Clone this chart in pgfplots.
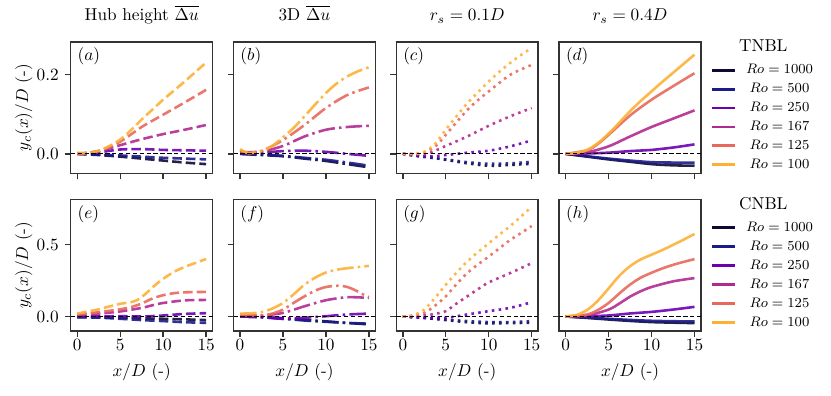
\documentclass[border=0pt]{standalone}
\usepackage{pgfplots}
\pgfplotsset{compat=1.18}
\usepgfplotslibrary{groupplots}

\definecolor{roA}{HTML}{0D0A33}
\definecolor{roB}{HTML}{1B1B8C}
\definecolor{roC}{HTML}{6A00B0}
\definecolor{roD}{HTML}{B12A90}
\definecolor{roE}{HTML}{E8685C}
\definecolor{roF}{HTML}{FCB034}

\pgfplotsset{
  pdash/.style={dash pattern=on 5.5pt off 2.4pt},
  pdashdot/.style={dash pattern=on 9.6pt off 2.4pt on 1.5pt off 2.4pt},
  pdot/.style={dash pattern=on 1.5pt off 2.5pt},
  zeroline/.style={black, sharp plot, line width=0.6pt, opacity=1, dash pattern=on 2.5pt off 1.5pt, forget plot},
  rolegend/.style={
    legend style={draw=none, fill=none, at={(1.03,0.878)}, anchor=north west,
      font=\fontsize{8.3}{10}\selectfont, column sep=4.4pt, row sep=1.3pt,
      nodes={inner sep=1pt, text height=6pt, text depth=1.7pt}},
    legend image code/.code={\draw[##1, solid, opacity=1, line width=1.7pt] (0pt,0pt) -- (13.4pt,0pt);},
  },
}

\begin{document}
\begin{tikzpicture}
\begin{groupplot}[
  group style={group size=4 by 2, horizontal sep=12.2pt, vertical sep=15.3pt,
    xticklabels at=edge bottom, yticklabels at=edge left},
  width=82.3pt, height=76.2pt, scale only axis, clip=false,
  xmin=-0.75, xmax=15.75, xtick={0,5,10,15},
  tick align=outside, tick pos=left, major tick length=3.5pt,
  axis line style={black!80, line width=0.8pt},
  every tick/.style={black!80, line width=0.8pt},
  yticklabel style={/pgf/number format/.cd, fixed, fixed zerofill, precision=1},
  xticklabel style={yshift=2pt},
  title style={anchor=base, yshift=6.2pt},
  ylabel style={at={(axis description cs:-0.332,0.5)}, anchor=center},
  xlabel style={at={(axis description cs:0.5,-0.318)}, anchor=center},
  no markers,
  every axis plot/.append style={line width=1.5pt, opacity=0.9, smooth, tension=0.5},
]

% ---------- (a) hub height, TNBL
\nextgroupplot[ymin=-0.049, ymax=0.283, ytick={0,0.2},
  title={Hub height $\overline{\Delta u}$}, ylabel={$y_c(x)/D$ (-)}]
\addplot[roA, pdash] coordinates {(0,0) (2.5,-0.003) (5,-0.007) (7.5,-0.012) (10,-0.017) (12.5,-0.022) (15,-0.026)};
\addplot[roB, pdash] coordinates {(0,0) (2.5,-0.002) (5,-0.004) (7.5,-0.007) (10,-0.010) (12.5,-0.012) (15,-0.014)};
\addplot[roC, pdash] coordinates {(0,0) (2.5,0.004) (5,0.011) (7.5,0.012) (10,0.010) (12.5,0.009) (15,0.008)};
\addplot[roD, pdash] coordinates {(0,0) (2.5,0.007) (5,0.022) (7.5,0.037) (10,0.050) (12.5,0.061) (15,0.073)};
\addplot[roE, pdash] coordinates {(0,0) (2.5,0.007) (5,0.031) (7.5,0.068) (10,0.099) (12.5,0.130) (15,0.162)};
\addplot[roF, pdash] coordinates {(0,0.003) (1.25,0.002) (2.5,0.008) (3.75,0.020) (5,0.036) (6.25,0.060) (7.5,0.087) (8.75,0.112) (10,0.137) (11.25,0.160) (12.5,0.183) (13.75,0.207) (15,0.231)};
\addplot[zeroline] coordinates {(-0.75,0) (15.75,0)};
\node[anchor=west, inner sep=0pt] at (axis description cs:0.046,0.89) {$(a)$};

% ---------- (b) 3D, TNBL
\nextgroupplot[ymin=-0.049, ymax=0.283, ytick={0,0.2},
  title={3D $\overline{\Delta u}$}]
\addplot[roA, pdashdot] coordinates {(0,0) (2.5,-0.003) (5,-0.006) (7.5,-0.012) (10,-0.018) (12.5,-0.026) (15,-0.034)};
\addplot[roB, pdashdot] coordinates {(0,0) (2.5,-0.002) (5,-0.005) (7.5,-0.010) (10,-0.015) (12.5,-0.022) (15,-0.030)};
\addplot[roC, pdashdot] coordinates {(0,0.002) (2.5,0.003) (5,0.007) (7.5,0.008) (10,0.005) (12.5,0.000) (15,-0.005)};
\addplot[roD, pdashdot] coordinates {(0,0.004) (2.5,0.006) (5,0.020) (7.5,0.044) (10,0.061) (12.5,0.068) (15,0.071)};
\addplot[roE, pdashdot] coordinates {(0,0.008) (1,0.002) (2.5,0.007) (5,0.035) (7.5,0.073) (10,0.116) (12.5,0.149) (15,0.168)};
\addplot[roF, pdashdot] coordinates {(0,0.012) (1,0.002) (2.5,0.008) (3.75,0.020) (5,0.042) (6.25,0.066) (7.5,0.095) (8.75,0.125) (10,0.154) (11.25,0.178) (12.5,0.196) (13.75,0.209) (15,0.219)};
\addplot[zeroline] coordinates {(-0.75,0) (15.75,0)};
\node[anchor=west, inner sep=0pt] at (axis description cs:0.046,0.89) {$(b)$};

% ---------- (c) r_s = 0.1D, TNBL
\nextgroupplot[ymin=-0.049, ymax=0.283, ytick={0,0.2},
  title={$r_s = 0.1D$}]
\addplot[roA, pdot] coordinates {(0,0) (2.5,-0.007) (5,-0.015) (7.5,-0.024) (10,-0.030) (12.5,-0.028) (15,-0.025)};
\addplot[roB, pdot] coordinates {(0,0) (2.5,-0.008) (5,-0.014) (7.5,-0.021) (10,-0.025) (12.5,-0.024) (15,-0.020)};
\addplot[roC, pdot] coordinates {(0,0) (2.5,-0.007) (5,-0.003) (7.5,0.003) (10,0.008) (12.5,0.019) (15,0.034)};
\addplot[roD, pdot] coordinates {(0,0) (2.5,-0.001) (3.75,0.008) (5,0.020) (7.5,0.044) (10,0.071) (12.5,0.095) (15,0.116)};
\addplot[roE, pdot] coordinates {(0,0) (1.25,0) (2.5,0.003) (3.75,0.018) (5,0.048) (6.25,0.080) (7.5,0.111) (8.75,0.136) (10,0.158) (12.5,0.200) (15,0.225)};
\addplot[roF, pdot] coordinates {(0,0) (1.25,0) (2.5,0.005) (3.75,0.025) (5,0.061) (6.25,0.095) (7.5,0.128) (8.75,0.156) (10,0.183) (11.25,0.208) (12.5,0.230) (13.75,0.250) (15,0.268)};
\addplot[zeroline] coordinates {(-0.75,0) (15.75,0)};
\node[anchor=west, inner sep=0pt] at (axis description cs:0.046,0.89) {$(c)$};

% ---------- (d) r_s = 0.4D, TNBL
\nextgroupplot[ymin=-0.049, ymax=0.283, ytick={0,0.2},
  title={$r_s = 0.4D$}, rolegend]
\addplot[roA] coordinates {(0,0) (2.5,-0.007) (5,-0.014) (7.5,-0.020) (10,-0.026) (12.5,-0.029) (15,-0.030)};
\addlegendentry{$Ro = 1000$}
\addplot[roB] coordinates {(0,0) (2.5,-0.006) (5,-0.012) (7.5,-0.017) (10,-0.021) (12.5,-0.022) (15,-0.022)};
\addlegendentry{$Ro = 500$}
\addplot[roC] coordinates {(0,0) (2.5,0.001) (5,0.003) (7.5,0.007) (10,0.010) (12.5,0.016) (15,0.024)};
\addlegendentry{$Ro = 250$}
\addplot[roD] coordinates {(0,0) (2.5,0.004) (5,0.019) (7.5,0.044) (10,0.068) (12.5,0.089) (15,0.110)};
\addlegendentry{$Ro = 167$}
\addplot[roE] coordinates {(0,0) (2.5,0.009) (3.75,0.025) (5,0.048) (7.5,0.097) (10,0.137) (12.5,0.171) (15,0.204)};
\addlegendentry{$Ro = 125$}
\addplot[roF] coordinates {(0,0) (1.25,0.002) (2.5,0.010) (3.75,0.027) (5,0.051) (6.25,0.079) (7.5,0.108) (8.75,0.134) (10,0.158) (11.25,0.182) (12.5,0.205) (13.75,0.228) (15,0.251)};
\addlegendentry{$Ro = 100$}
\addplot[zeroline] coordinates {(-0.75,0) (15.75,0)};
\node[anchor=west, inner sep=0pt] at (axis description cs:0.046,0.89) {$(d)$};
\node at (axis description cs:1.44,0.97) {TNBL};

% ---------- (e) hub height, CNBL
\nextgroupplot[ymin=-0.1, ymax=0.813, ytick={0,0.5},
  xlabel={$x/D$ (-)}, ylabel={$y_c(x)/D$ (-)}]
\addplot[roA, pdash] coordinates {(0,-0.004) (2.5,-0.006) (5,-0.009) (7.5,-0.013) (10,-0.016) (12.5,-0.020) (15,-0.025)};
\addplot[roB, pdash] coordinates {(0,-0.005) (2.5,-0.008) (5,-0.016) (7.5,-0.025) (10,-0.032) (12.5,-0.040) (15,-0.044)};
\addplot[roC, pdash] coordinates {(0,0.002) (2.5,0.000) (5,0.002) (7.5,0.000) (10,0.007) (12.5,0.018) (15,0.023)};
\addplot[roD, pdash] coordinates {(0,0.010) (2.5,0.020) (5,0.035) (7.5,0.060) (8.75,0.078) (10,0.094) (12.5,0.112) (15,0.115)};
\addplot[roE, pdash] coordinates {(0,0.014) (2.5,0.030) (5,0.050) (6.25,0.065) (7.5,0.090) (8.75,0.125) (10,0.148) (11.25,0.162) (12.5,0.168) (15,0.171)};
\addplot[roF, pdash] coordinates {(0,0.020) (1.25,0.035) (2.5,0.050) (3.75,0.070) (5,0.088) (6.25,0.100) (7,0.115) (8,0.160) (9,0.215) (10,0.262) (11.25,0.310) (12.5,0.345) (13.75,0.372) (15,0.400)};
\addplot[zeroline] coordinates {(-0.75,0) (15.75,0)};
\node[anchor=west, inner sep=0pt] at (axis description cs:0.046,0.89) {$(e)$};

% ---------- (f) 3D, CNBL
\nextgroupplot[ymin=-0.1, ymax=0.813, ytick={0,0.5}, xlabel={$x/D$ (-)}]
\addplot[roA, pdashdot] coordinates {(0,0) (2.5,-0.004) (5,-0.012) (7.5,-0.024) (10,-0.034) (12.5,-0.045) (15,-0.055)};
\addplot[roB, pdashdot] coordinates {(0,0) (2.5,-0.005) (5,-0.016) (7.5,-0.028) (10,-0.037) (12.5,-0.045) (15,-0.050)};
\addplot[roC, pdashdot] coordinates {(0,0) (2.5,-0.005) (5,-0.016) (7.5,-0.009) (10,0.002) (12.5,0.014) (15,0.020)};
\addplot[roD, pdashdot] coordinates {(0,0.005) (2.5,0.007) (5,0.025) (7.5,0.071) (10,0.113) (12.5,0.134) (15,0.129)};
\addplot[roE, pdashdot] coordinates {(0,0.014) (2.5,0.007) (3.75,0.020) (5,0.048) (6.25,0.095) (7.5,0.140) (8.75,0.180) (10,0.205) (11.5,0.214) (12.5,0.205) (13.5,0.180) (14.5,0.148) (15,0.135)};
\addplot[roF, pdashdot] coordinates {(0,0.020) (1.25,0.022) (2.5,0.030) (3.75,0.055) (5,0.094) (6.25,0.155) (7.5,0.221) (8.75,0.270) (10,0.306) (11.25,0.325) (12.5,0.336) (13.75,0.344) (15,0.352)};
\addplot[zeroline] coordinates {(-0.75,0) (15.75,0)};
\node[anchor=west, inner sep=0pt] at (axis description cs:0.046,0.89) {$(f)$};

% ---------- (g) r_s = 0.1D, CNBL
\nextgroupplot[ymin=-0.1, ymax=0.813, ytick={0,0.5}, xlabel={$x/D$ (-)}]
\addplot[roA, pdot] coordinates {(0,0) (2.5,-0.010) (5,-0.025) (7.5,-0.040) (10,-0.048) (12.5,-0.046) (15,-0.044)};
\addplot[roB, pdot] coordinates {(0,0) (2.5,-0.009) (5,-0.021) (7.5,-0.032) (10,-0.039) (12.5,-0.039) (15,-0.032)};
\addplot[roC, pdot] coordinates {(0,0) (2.5,-0.009) (5,-0.009) (7.5,0.014) (10,0.037) (12.5,0.060) (15,0.099)};
\addplot[roD, pdot] coordinates {(0,0) (2.5,0.007) (3.75,0.018) (5,0.037) (6.25,0.090) (7.5,0.140) (8.75,0.190) (10,0.237) (12.5,0.302) (15,0.371)};
\addplot[roE, pdot] coordinates {(0,0) (1.25,0.005) (2.5,0.025) (3.75,0.075) (5,0.140) (6.25,0.225) (7.5,0.302) (8.75,0.362) (10,0.417) (11.25,0.475) (12.5,0.532) (13.75,0.580) (15,0.629)};
\addplot[roF, pdot] coordinates {(0,0) (1.25,0.010) (2.5,0.048) (3.75,0.130) (5,0.221) (6.25,0.305) (7.5,0.382) (8.75,0.448) (10,0.509) (11.25,0.570) (12.5,0.629) (13.75,0.695) (15,0.763)};
\addplot[zeroline] coordinates {(-0.75,0) (15.75,0)};
\node[anchor=west, inner sep=0pt] at (axis description cs:0.046,0.89) {$(g)$};

% ---------- (h) r_s = 0.4D, CNBL
\nextgroupplot[ymin=-0.1, ymax=0.813, ytick={0,0.5}, xlabel={$x/D$ (-)}, rolegend]
\addplot[roA] coordinates {(0,0) (2.5,-0.010) (5,-0.021) (7.5,-0.031) (10,-0.039) (12.5,-0.043) (15,-0.046)};
\addlegendentry{$Ro = 1000$}
\addplot[roB] coordinates {(0,0) (2.5,-0.008) (5,-0.016) (7.5,-0.024) (10,-0.030) (12.5,-0.033) (15,-0.035)};
\addlegendentry{$Ro = 500$}
\addplot[roC] coordinates {(0,0) (2.5,0.002) (5,0.007) (7.5,0.021) (10,0.032) (12.5,0.048) (15,0.067)};
\addlegendentry{$Ro = 250$}
\addplot[roD] coordinates {(0,0) (2.5,0.007) (5,0.048) (6.25,0.090) (7.5,0.138) (8.75,0.176) (10,0.205) (12.5,0.244) (15,0.267)};
\addlegendentry{$Ro = 167$}
\addplot[roE] coordinates {(0,0) (2.5,0.014) (3.75,0.045) (5,0.094) (6.25,0.160) (7.5,0.222) (8.75,0.270) (10,0.304) (11.25,0.334) (12.5,0.359) (13.75,0.380) (15,0.399)};
\addlegendentry{$Ro = 125$}
\addplot[roF] coordinates {(0,0) (1.25,0.010) (2.5,0.045) (3.75,0.110) (5,0.195) (6.25,0.283) (7.5,0.350) (8.75,0.397) (10,0.430) (11.25,0.462) (12.5,0.498) (13.75,0.535) (15,0.574)};
\addlegendentry{$Ro = 100$}
\addplot[zeroline] coordinates {(-0.75,0) (15.75,0)};
\node[anchor=west, inner sep=0pt] at (axis description cs:0.046,0.89) {$(h)$};
\node at (axis description cs:1.44,0.97) {CNBL};
\end{groupplot}
% page margins as in the reference
\path (group c1r1.north west) ++(-41.1pt,21.7pt) coordinate (TL);
\path (group c4r2.south east) ++(75.5pt,-37.4pt) coordinate (BR);
\path (TL) rectangle (BR);
\end{tikzpicture}
\end{document}
